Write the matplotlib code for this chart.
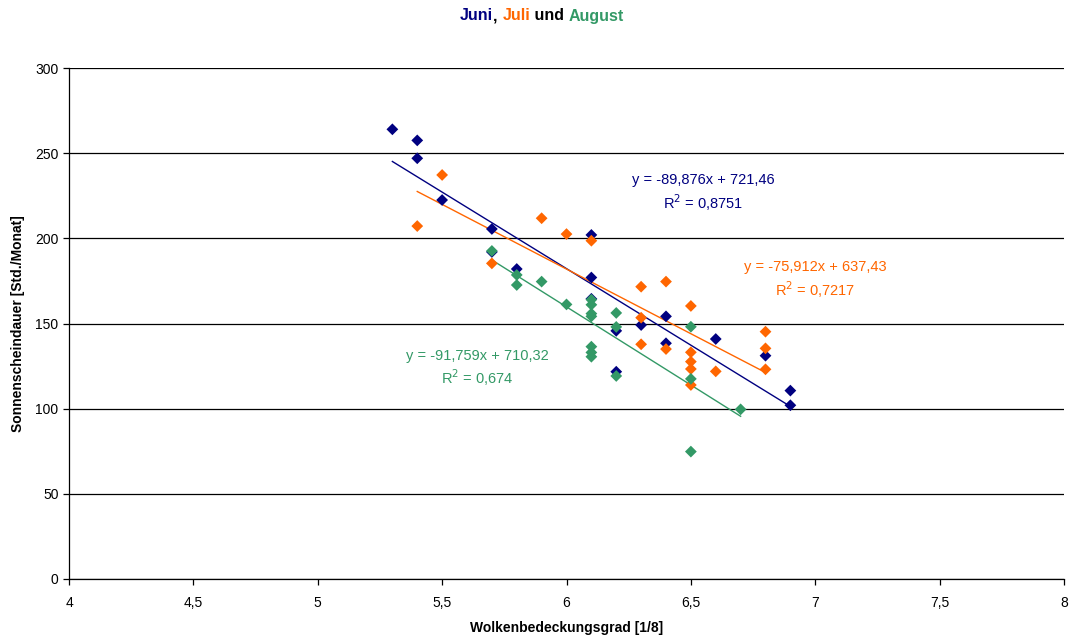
import matplotlib
matplotlib.use("Agg")
import matplotlib.pyplot as plt
import numpy as np

plt.rcParams['font.family'] = ['Liberation Sans', 'DejaVu Sans']

# Data
juni_x = [5.3, 5.4, 5.4, 5.5, 5.7, 5.7, 5.8, 6.1, 6.1, 6.1, 6.2, 6.2, 6.3, 6.4, 6.4, 6.6, 6.8, 6.9, 6.9]
juni_y = [264, 257.5, 247, 222.5, 205.5, 192, 182, 202, 177, 164.5, 145.7, 121.7, 149.1, 154.2, 138.4, 140.9, 131.1, 110.6, 102]

juli_x = [5.4, 5.5, 5.7, 5.9, 6.0, 6.1, 6.3, 6.3, 6.3, 6.4, 6.4, 6.5, 6.5, 6.5, 6.5, 6.5, 6.6, 6.8, 6.8, 6.8]
juli_y = [207.2, 237.2, 185.3, 211.8, 202.5, 198.6, 171.6, 153.4, 137.8, 174.6, 135, 160.3, 133.1, 127.6, 123.3, 113.9, 121.9, 145.2, 135.4, 123.1]

aug_x = [5.7, 5.8, 5.8, 5.9, 6.0, 6.1, 6.1, 6.1, 6.1, 6.1, 6.1, 6.1, 6.2, 6.2, 6.2, 6.5, 6.5, 6.5, 6.7]
aug_y = [192.6, 178.5, 172.6, 174.6, 161.2, 164, 161, 155.8, 154.2, 136.4, 133, 130.5, 156.2, 148, 119.2, 148.1, 117.5, 74.8, 99.6]

series_names = ['Juni', 'Juli', 'August']
series_colors = ['#000080', '#FF6600', '#339966']
slopes = [-89.876, -75.912, -91.759]
intercepts = [721.46, 637.43, 710.32]
eq_texts = ['y = -89,876x + 721,46\nR$^2$ = 0,8751',
            'y = -75,912x + 637,43\nR$^2$ = 0,7217',
            'y = -91,759x + 710,32\nR$^2$ = 0,674']
eq_pos = [(6.55, 226.5), (7.0, 175.5), (5.64, 123.5)]

xticks = [4, 4.5, 5, 5.5, 6, 6.5, 7, 7.5, 8]
xtick_labels = ['4', '4,5', '5', '5,5', '6', '6,5', '7', '7,5', '8']
yticks = [0, 50, 100, 150, 200, 250, 300]

fig = plt.figure(figsize=(10.69, 6.38), dpi=100)
ax = fig.add_axes([69/1069, 1 - 579/638, (1064-69)/1069, (579-68)/638])

xs = [juni_x, juli_x, aug_x]
ys = [juni_y, juli_y, aug_y]
for x, y, c, m, b in zip(xs, ys, series_colors, slopes, intercepts):
    xl = np.array([min(x), max(x)])
    ax.plot(xl, m * xl + b, color=c, lw=1.0, zorder=2)
for x, y, c in zip(xs, ys, series_colors):
    ax.scatter(x, y, marker='D', s=36, color=c, edgecolors='none', zorder=3)

for (tx, ty), t, c in zip(eq_pos, eq_texts, series_colors):
    ax.text(tx, ty, t, color=c, fontsize=10.5, ha='center', va='center', linespacing=1.3, zorder=4)

ax.set_xlim(4, 8)
ax.set_ylim(0, 300)
ax.set_xticks(xticks)
ax.set_xticklabels(xtick_labels)
ax.set_yticks(yticks)
ax.yaxis.grid(True, color='black', lw=0.9)
ax.set_axisbelow(True)
for s in ['top', 'right']:
    ax.spines[s].set_visible(False)
ax.spines['left'].set_linewidth(0.9)
ax.spines['bottom'].set_linewidth(0.9)
ax.tick_params(axis='both', labelsize=10, direction='out', length=4, width=0.9)
ax.tick_params(axis='x', pad=8)
ax.set_xlabel('Wolkenbedeckungsgrad [1/8]', fontsize=10, fontweight='bold')
ax.set_ylabel('Sonnenscheindauer [Std./Monat]', fontsize=10, fontweight='bold')
ax.yaxis.set_label_coords(-51/995, 0.5)
ax.xaxis.set_label_coords(0.5, -49/511)
ax.yaxis.label.set_va('center')
ax.xaxis.label.set_va('center')

# Multi-coloured title
parts = [('Juni', series_colors[0]), (', ', 'black'), ('Juli', series_colors[1]),
         (' und ', 'black'), ('August', series_colors[2])]
fig.canvas.draw()
renderer = fig.canvas.get_renderer()
texts = []
widths = []
for s, c in parts:
    t = fig.text(0, 1 - 16/638, s, color=c, fontsize=11.5, fontweight='bold', va='center', ha='left')
    bb = t.get_window_extent(renderer=renderer)
    texts.append(t)
    widths.append(bb.width)
total = sum(widths)
start = 542 - total / 2
for t, w in zip(texts, widths):
    t.set_x(start / 1069)
    start += w

fig.savefig('out.png', dpi=100)
